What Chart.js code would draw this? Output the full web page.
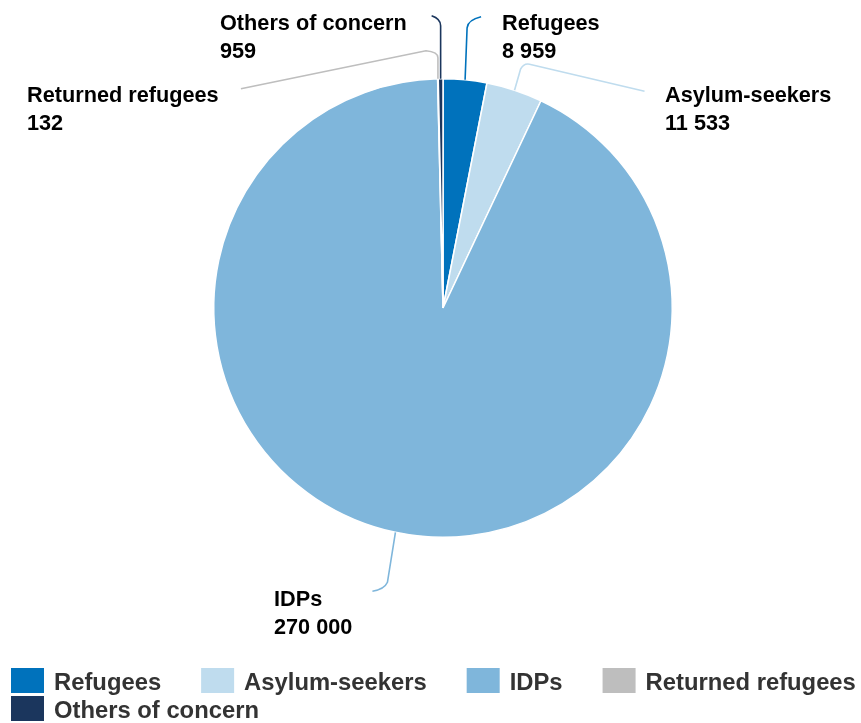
<!DOCTYPE html>
<html lang="en">
<head>
  <meta charset="UTF-8" />
  <title>Population of concern</title>
  <script src="https://cdn.jsdelivr.net/npm/chart.js"></script>
  <style>
    html, body { margin: 0; padding: 0; background: #ffffff; }
    #wrap { width: 861px; height: 723px; position: relative; }
  </style>
</head>
<body>
  <div id="wrap"><canvas id="pie" width="861" height="723"></canvas></div>

  <script>
    const categories = ["Refugees", "Asylum-seekers", "IDPs", "Returned refugees", "Others of concern"];
    const values = [8959, 11533, 270000, 132, 959];
    const valueLabels = ["8 959", "11 533", "270 000", "132", "959"];
    const colors = ["#0072bc", "#bfdcee", "#7fb6db", "#bebebe", "#1b365d"];

    // label text position (left x, first baseline) and leader path, relative to the slice edge
    const labelPos = [
      { x: 502, y: 30, path: [[2, -52], [3, -60], [16, -63]] },
      { x: 665, y: 102, path: [[6, -21], [9, -27], [15, -26], [130, 1]] },
      { x: 274, y: 606, path: [[-8, 50], [-11, 57], [-23, 59]] },
      { x: 27, y: 102, path: [[0, -21], [0, -27], [-12, -28], [-197, 10]] },
      { x: 220, y: 30, path: [[0, -53], [0, -60], [-9, -63]] }
    ];

    const leaderPlugin = {
      id: 'leaders',
      afterDatasetsDraw(chart) {
        const ctx = chart.ctx;
        const meta = chart.getDatasetMeta(0);
        meta.data.forEach((arc, i) => {
          const mid = (arc.startAngle + arc.endAngle) / 2;
          const sx = arc.x + Math.cos(mid) * arc.outerRadius;
          const sy = arc.y + Math.sin(mid) * arc.outerRadius;
          const p = labelPos[i].path;
          ctx.save();
          ctx.strokeStyle = colors[i];
          ctx.lineWidth = 1.6;
          ctx.beginPath();
          ctx.moveTo(sx, sy);
          ctx.lineTo(sx + p[0][0], sy + p[0][1]);
          ctx.quadraticCurveTo(sx + p[1][0], sy + p[1][1], sx + p[2][0], sy + p[2][1]);
          if (p[3]) ctx.lineTo(sx + p[3][0], sy + p[3][1]);
          ctx.stroke();
          ctx.restore();

          ctx.save();
          ctx.fillStyle = '#000000';
          ctx.font = 'bold 21.7px "Liberation Sans", Arial, sans-serif';
          ctx.textBaseline = 'alphabetic';
          ctx.fillText(categories[i], labelPos[i].x, labelPos[i].y);
          ctx.fillText(valueLabels[i], labelPos[i].x, labelPos[i].y + 27.5);
          ctx.restore();
        });
      },
      afterDraw(chart) {
        // legend laid out like the original: left aligned, wraps at the canvas edge
        const ctx = chart.ctx;
        ctx.save();
        ctx.font = 'bold 23.8px "Liberation Sans", Arial, sans-serif';
        ctx.textBaseline = 'alphabetic';
        let x = 11, y = 668;
        categories.forEach((name, i) => {
          const tw = ctx.measureText(name).width;
          if (x + 43 + tw > 861) { x = 11; y += 28; }
          ctx.fillStyle = colors[i];
          ctx.fillRect(x, y, 33, 25);
          ctx.fillStyle = '#333333';
          ctx.fillText(name, x + 43, y + 22);
          x += 43 + tw + 40;
        });
        ctx.restore();
      }
    };

    new Chart(document.getElementById('pie'), {
      type: 'pie',
      data: {
        labels: categories,
        datasets: [{
          data: values,
          backgroundColor: colors,
          borderColor: '#ffffff',
          borderWidth: 1.5
        }]
      },
      options: {
        responsive: false,
        animation: false,
        layout: { padding: { left: 213, right: 188, top: 78, bottom: 185 } },
        plugins: {
          legend: { display: false },
          tooltip: { enabled: false }
        }
      },
      plugins: [leaderPlugin]
    });
  </script>
</body>
</html>
